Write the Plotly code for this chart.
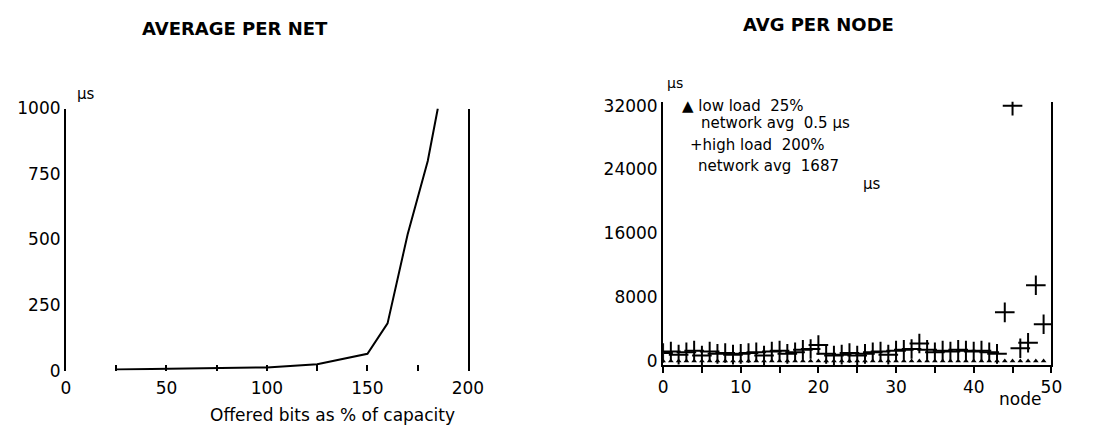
import plotly.graph_objects as go

# Left chart: average per net
load_pct = [25, 50, 75, 100, 125, 150, 160, 170, 180, 185]
avg_delay_us = [4, 6, 8, 12, 24, 64, 180, 520, 800, 1000]

# Right chart: avg per node
nodes = list(range(50))
high_load_us = [1000, 1200, 800, 1100, 1300, 700, 1200, 900, 1000, 800,
                900, 1000, 1100, 700, 1200, 1300, 900, 1100, 1400, 1500,
                2000, 900, 700, 800, 1000, 700, 900, 1100, 1200, 800,
                1300, 1400, 1500, 2200, 1400, 1100, 1300, 1200, 1400, 1300,
                1200, 1300, 1100, 900, 6100, 32000, 1600, 2300, 9500, 4600]
low_load_us = [0.5] * 50

left_xticks = [0, 25, 50, 75, 100, 125, 150, 175, 200]
left_xlabels = ["0", "", "50", "", "100", "", "150", "", "200"]
left_yticks = [0, 250, 500, 750, 1000]
right_xticks = [0, 5, 10, 15, 20, 25, 30, 35, 40, 45, 50]
right_xlabels = ["0", "", "10", "", "20", "", "30", "", "40", "", "50"]
right_yticks = [0, 8000, 16000, 24000, 32000]
right_ylabels = ["0", "8000", "16000", "24000", "32000"]

FONT = "DejaVu Sans, Liberation Sans, sans-serif"
W, H, OFF = 1078, 424, 8


def fx(px):
    return (px - OFF) / W


def fy(py):
    return (H + OFF - py) / H


fig = go.Figure()
fig.add_trace(go.Scatter(x=load_pct, y=avg_delay_us, mode="lines",
                         line=dict(color="black", width=2),
                         xaxis="x", yaxis="y", showlegend=False))
fig.add_trace(go.Scatter(x=nodes, y=low_load_us, mode="markers",
                         marker=dict(symbol="triangle-up", size=5, color="black"),
                         xaxis="x2", yaxis="y2", showlegend=False))
fig.add_trace(go.Scatter(x=nodes, y=high_load_us, mode="markers",
                         marker=dict(symbol="cross-thin", size=14,
                                     line=dict(color="black", width=2)),
                         xaxis="x2", yaxis="y2", showlegend=False))

axis_common = dict(showgrid=False, zeroline=False,
                   linecolor="black", linewidth=2,
                   tickfont=dict(family=FONT, size=17, color="black"))

fig.update_layout(
    width=W, height=H,
    margin=dict(l=0, r=0, t=0, b=0),
    paper_bgcolor="white", plot_bgcolor="white",
    font=dict(family=FONT, color="black"),
    xaxis=dict(domain=[fx(62), fx(472)], range=[0, 200],
               tickvals=left_xticks, ticktext=left_xlabels, showline=False,
               ticks="inside", ticklen=6, tickwidth=2, tickcolor="black",
               ticklabelstandoff=5,
               anchor="y", **axis_common),
    yaxis=dict(domain=[fy(378), fy(103)], range=[0, 1000],
               tickvals=left_yticks, ticks="", mirror=True, showline=True,
               anchor="x", **axis_common),
    xaxis2=dict(domain=[fx(671), fx(1067)], range=[0, 50],
                tickvals=right_xticks, ticktext=right_xlabels, showline=True,
                ticks="outside", ticklen=6, tickwidth=2, tickcolor="black",
                anchor="y2", **axis_common),
    yaxis2=dict(domain=[fy(372.2), fy(95.8)], range=[-500, 32500],
                tickvals=right_yticks, ticktext=right_ylabels,
                ticks="", mirror=True, showline=True,
                anchor="x2", **axis_common),
)

ann = [
    ("<b>AVERAGE PER NET</b>", 234, 19, 18, "center"),
    ("<b>AVG PER NODE</b>", 830, 15, 18, "center"),
    ("Offered bits as % of capacity", 334, 425, 17, "center"),
    ("node", 1035, 408, 17, "center"),
    ("µs", 82, 88, 15, "center"),
    ("µs", 683, 76, 14, "center"),
    ("▲ low load  25%", 688, 100, 15, "left"),
    ("network avg  0.5 µs", 708, 118, 15, "left"),
    ("+high load  200%", 696, 141, 15, "left"),
    ("network avg  1687", 705, 163, 15, "left"),
    ("µs", 873, 182, 15, "left"),
]
annotations = []
for t, px, py, size, anchor in ann:
    annotations.append(dict(text=t, x=fx(px), y=fy(py),
                            xref="paper", yref="paper", showarrow=False,
                            xanchor=anchor, yanchor="middle",
                            font=dict(family=FONT, size=size, color="black")))

fig.update_layout(annotations=annotations)
fig.write_html("out.html")
